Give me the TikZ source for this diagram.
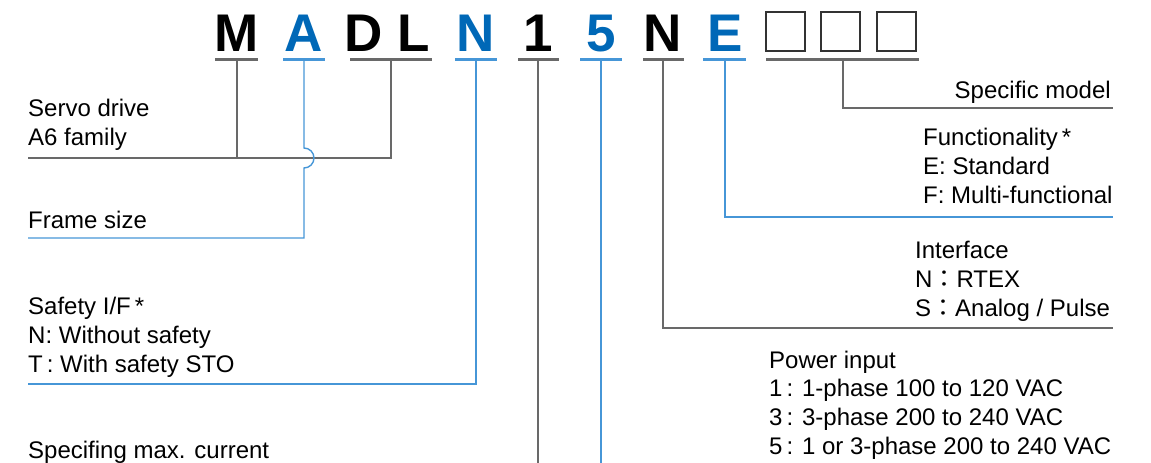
\documentclass[tikz,border=0pt]{standalone}
\usepackage{fontspec}
\setmainfont{Liberation Sans}
\newfontfamily\cjk{Noto Sans CJK JP}

\definecolor{codeblue}{RGB}{0,104,183}
\definecolor{lineblue}{RGB}{70,150,215}
\definecolor{linegray}{RGB}{105,105,105}

\tikzset{
  letter/.style={anchor=base, inner sep=0pt, font=\fontsize{53}{53}\selectfont\bfseries},
  desc/.style={anchor=base west, inner sep=0pt, align=left, font=\fontsize{24}{28.6}\selectfont},
  bar/.style={line width=3pt},
  lead/.style={line width=1.4pt},
}

\begin{document}
\begin{tikzpicture}[x=1pt,y=-1pt]
    \useasboundingbox (0,0) rectangle (1151,463);

    % model number
    \node[letter] (M) at (237,51) {M};
    \node[letter,text=codeblue] (A) at (304,51) {A};
    \node[letter] (D) at (364,51) {D};
    \node[letter] (L) at (414,51) {L};
    \node[letter,text=codeblue] (N1) at (476,51) {N};
    \node[letter] (one) at (538,51) {1};
    \node[letter,text=codeblue] (five) at (601,51) {5};
    \node[letter] (N2) at (663,51) {N};
    \node[letter,text=codeblue] (E) at (725,51) {E};
    \foreach \x in {766,821,877}
        \draw[line width=1.6pt,black!80] (\x,12) rectangle (\x+39,51);

    % bars under the letters
    \draw[bar,linegray] (215,59) -- (258,59);
    \draw[bar,lineblue] (283,59) -- (325,59);
    \draw[bar,linegray] (350,59) -- (432,59);
    \draw[bar,lineblue] (455,59) -- (497,59);
    \draw[bar,linegray] (518,59) -- (559,59);
    \draw[bar,lineblue] (580,59) -- (622,59);
    \draw[bar,linegray] (643,59) -- (684,59);
    \draw[bar,lineblue] (703,59) -- (746,59);
    \draw[bar,linegray] (766,59) -- (919,59);

    \coordinate (bM) at (237,59);
    \coordinate (bA) at (304,59);
    \coordinate (bDL) at (391,59);
    \coordinate (bN1) at (476,59);
    \coordinate (bone) at (538,59);
    \coordinate (bfive) at (601,59);
    \coordinate (bN2) at (663,59);
    \coordinate (bE) at (725,59);
    \coordinate (bbox) at (843,59);

    % descriptions (base = last line)
    \node[desc] (servo) at (28,145) {Servo drive\\A6 family};
    \node[desc] (frame) at (28,228) {Frame size};
    \node[desc] (safety) at (28,372) {Safety I/F\,*\\N: Without safety\\T\,: With safety STO};
    \node[desc] (current) at (28,458) {Specifing max. current};
    \node[desc,anchor=base east] (model) at (1111,98) {Specific model};
    \node[desc] (func) at (923,203) {Functionality\,*\\E: Standard\\F: Multi-functional};
    \node[desc] (iface) at (915,316) {Interface\\N{\cjk ：}RTEX\\S{\cjk ：}Analog / Pulse};
    \node[desc] (power) at (769,454) {Power input\\1\,: 1-phase 100 to 120 VAC\\3\,: 3-phase 200 to 240 VAC\\5\,: 1 or 3-phase 200 to 240 VAC};

    % leader lines
    \draw[lead,linegray] (28,158) -- (391,158) -- (bDL);
    \draw[lead,linegray] (bM) -- (237,158);
    \draw[lead,lineblue] (bA) -- (304,148) arc[start angle=90,end angle=-90,radius=10pt] -- (304,238) -- (28,238);
    \draw[lead,lineblue] (bN1) -- (476,384) -- (28,384);
    \draw[lead,linegray] (bone) -- (538,463);
    \draw[lead,lineblue] (bfive) -- (601,463);
    \draw[lead,linegray] (bN2) -- (663,328) -- (1113,328);
    \draw[lead,lineblue] (bE) -- (725,217) -- (1113,217);
    \draw[lead,linegray] (bbox) -- (843,108) -- (1113,108);
\end{tikzpicture}
\end{document}
